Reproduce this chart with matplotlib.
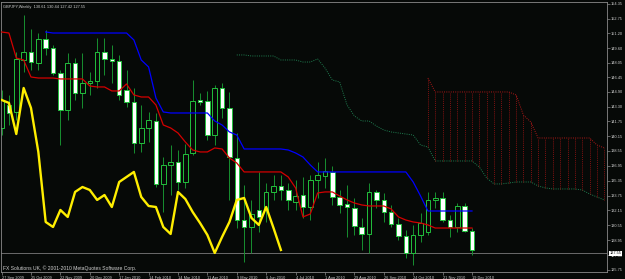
import matplotlib
matplotlib.use('Agg')
import matplotlib.pyplot as plt
import numpy as np

plt.rcParams['font.family'] = ['Liberation Sans', 'DejaVu Sans']

# weekly GBPJPY candles, bar 0 = 27 Sep 2009 ... bar 64 = 19 Dec 2010
opens = [141.02, 143.49, 142.74, 148.33, 149.19, 148.01, 150.59, 149.62, 146.93, 142.95,
         148.01, 144.78, 145.86, 146.07, 149.19, 148.44, 148.22, 145.10, 143.81, 139.40,
         141.02, 141.77, 135.00, 137.04, 137.36, 135.21, 138.33, 144.03, 143.92, 140.26,
         145.32, 143.17, 137.79, 131.12, 130.37, 132.20, 132.20, 134.14, 134.78, 134.35,
         133.06, 133.81, 132.52, 135.43, 135.86, 136.29, 133.60, 132.85, 132.41, 130.37,
         129.62, 134.14, 133.28, 131.98, 130.69, 129.40, 127.58, 129.51, 129.83, 133.28,
         133.49, 131.12, 130.37, 132.63, 129.94]
highs = [145.10, 144.57, 149.19, 153.17, 151.66, 151.23, 151.55, 149.94, 147.25, 149.08,
         148.54, 149.08, 147.04, 150.69, 150.69, 149.94, 148.87, 147.25, 145.32, 143.49,
         142.74, 142.63, 137.90, 139.19, 138.65, 139.30, 146.18, 144.78, 145.00, 145.64,
         145.86, 144.89, 140.48, 134.89, 133.28, 136.29, 135.10, 135.96, 135.96, 135.10,
         135.43, 135.75, 135.96, 137.36, 137.79, 136.93, 134.35, 134.89, 133.49, 131.34,
         135.10, 134.35, 134.03, 132.74, 131.34, 130.05, 130.59, 131.88, 134.14, 134.14,
         134.14, 131.66, 132.95, 132.95, 130.26]
lows = [140.26, 141.34, 141.88, 147.04, 147.25, 147.25, 148.87, 146.72, 139.19, 141.88,
        144.03, 143.17, 144.57, 145.32, 146.72, 145.86, 144.03, 143.28, 138.33, 138.44,
        139.51, 134.67, 131.98, 133.81, 134.35, 134.57, 138.11, 143.49, 139.73, 139.19,
        142.09, 133.28, 130.26, 126.61, 127.58, 129.83, 130.91, 133.28, 133.28, 132.20,
        132.20, 131.34, 131.12, 133.49, 134.57, 132.74, 131.88, 129.30, 129.51, 127.90,
        127.58, 132.41, 130.91, 130.37, 128.97, 127.04, 126.29, 128.76, 129.51, 132.41,
        130.91, 129.30, 129.83, 129.83, 127.36]
closes = [144.03, 142.63, 148.44, 149.19, 148.11, 150.59, 149.62, 146.93, 142.95, 148.01,
          144.78, 145.86, 146.07, 149.19, 148.44, 148.22, 144.57, 143.81, 139.40, 141.02,
          141.88, 135.00, 137.04, 137.36, 135.21, 138.22, 143.92, 143.81, 140.26, 145.32,
          143.17, 137.90, 131.12, 130.37, 131.77, 131.45, 134.14, 134.78, 134.35, 133.28,
          133.70, 132.52, 135.43, 135.96, 136.39, 133.60, 132.74, 132.52, 130.48, 129.62,
          134.14, 133.28, 131.98, 130.69, 129.40, 127.58, 129.51, 130.80, 133.28, 133.49,
          131.12, 130.37, 132.63, 129.94, 127.90]

# Ichimoku lines
tenkan = [151.34, 151.23, 148.54, 148.33, 146.50, 146.39, 146.39, 146.39, 146.29, 146.29,
          146.29, 146.29, 145.53, 145.43, 145.43, 145.00, 145.00, 145.75, 144.57, 144.35,
          144.35, 143.49, 141.34, 141.02, 140.48, 139.51, 138.65, 138.44, 138.44, 138.87,
          138.76, 137.79, 137.25, 136.29, 136.29, 136.29, 136.29, 136.29, 136.29, 135.75,
          134.57, 131.45, 131.77, 134.03, 134.14, 134.14, 133.70, 133.28, 132.95, 132.74,
          132.63, 132.63, 132.63, 132.31, 131.45, 131.12, 130.91, 130.80, 130.59, 130.26,
          130.26, 130.26, 130.26, 130.26, 130.26]
kijun_start = 6
kijun = [151.34, 151.23, 151.23, 151.23, 151.23, 151.23, 151.23, 151.23, 151.23, 151.23,
         151.23, 151.23, 150.48, 148.33, 147.58, 144.24, 142.74, 142.63, 142.63, 142.63,
         142.63, 142.63, 142.63, 141.77, 141.34, 140.59, 140.26, 138.76, 138.76, 138.76,
         138.76, 138.76, 138.76, 138.65, 138.33, 137.90, 137.04, 136.29, 136.29, 136.29,
         136.29, 136.29, 136.29, 136.29, 136.29, 136.29, 136.29, 136.29, 136.29, 136.29,
         135.21, 133.71, 132.09, 132.09, 132.09, 132.09, 132.09, 132.09, 132.09]
chikou = [144.03, 143.71, 140.37, 145.32, 143.17, 138.44, 130.91, 130.37, 132.20, 131.45,
          134.14, 134.67, 134.35, 133.28, 133.81, 132.52, 135.21, 135.75, 136.29, 133.60,
          132.63, 132.52, 130.37, 129.62, 134.14, 133.38, 131.98, 130.80, 129.51, 127.58,
          129.30, 130.91, 133.28, 133.49, 131.34, 130.59, 132.52, 130.26, 127.90]
span_a_start = 32
span_a = [148.87, 148.87, 148.76, 148.76, 148.76, 148.76, 148.33, 148.33, 148.33, 148.11,
          148.11, 148.44, 147.47, 146.18, 145.96, 143.49, 142.31, 141.77, 141.77, 141.23,
          140.80, 140.59, 140.48, 140.37, 140.26, 139.19, 138.97, 137.47, 137.47, 137.47,
          137.47, 137.47, 137.47, 136.82, 135.64, 135.00, 135.00, 135.10, 135.21, 135.21,
          135.21, 134.78, 134.57, 134.46, 134.46, 134.46, 134.46, 134.35, 133.92, 133.60,
          133.28]
span_b_start = 58
span_b = [146.39, 144.89, 144.89, 144.89, 144.89, 144.89, 144.89, 144.89, 144.89, 144.89,
          144.89, 144.89, 144.57, 142.41, 141.66, 139.94, 139.94, 139.94, 139.94, 139.94,
          139.94, 139.94, 139.94, 139.19, 138.87]

date_labels = ['27 Sep 2009', '25 Oct 2009', '22 Nov 2009', '20 Dec 2009', '17 Jan 2010',
               '14 Feb 2010', '14 Mar 2010', '11 Apr 2010', '9 May 2010', '6 Jun 2010',
               '4 Jul 2010', '1 Aug 2010', '29 Aug 2010', '26 Sep 2010', '24 Oct 2010',
               '21 Nov 2010', '19 Dec 2010']
price_ticks = [154.35, 152.75, 151.20, 149.60, 148.05, 146.45, 144.90, 143.30, 141.75,
               140.15, 138.55, 136.95, 135.35, 133.75, 132.15, 130.55, 128.95, 127.35, 125.75]
last_price = 127.55

bg = '#060907'
txt = '#d0d0d0'
grey = '#8a8a8a'

fig = plt.figure(figsize=(6.25, 2.79), dpi=100, facecolor=bg)
ax = fig.add_axes([1 / 625, 7 / 279, 606 / 625, 270 / 279], facecolor=bg)

o = np.array(opens)
h = np.array(highs)
l = np.array(lows)
c = np.array(closes)
x = np.arange(len(o))
up = c >= o

# candles
ax.vlines(x, l, h, color='#179030', lw=0.7, zorder=1)
ax.bar(x[up], (c - o)[up], bottom=o[up], width=0.62, facecolor=bg,
       edgecolor='#22c03c', linewidth=0.7, zorder=2)
ax.bar(x[~up], (o - c)[~up], bottom=c[~up], width=0.62, facecolor='white',
       edgecolor='#22c03c', linewidth=0.7, zorder=2)

# cloud
xa = np.arange(span_a_start, span_a_start + len(span_a))
xb = np.arange(span_b_start, span_b_start + len(span_b))
dots = (0, (1, 1.3))
ax.plot(xa, span_a, color='#1f7f50', lw=0.7, ls=dots, zorder=1)
ax.plot(xb, span_b, color='#b01818', lw=0.7, ls=dots, zorder=1)
a_under = np.array(span_a)[span_b_start - span_a_start:]
ax.vlines(xb, a_under, span_b, color='#a01414', lw=0.6, linestyles=[dots], zorder=1)

# ichimoku lines
ax.plot(np.arange(len(tenkan)), tenkan, color='#d40000', lw=0.9, zorder=3)
ax.plot(np.arange(kijun_start, kijun_start + len(kijun)), kijun, color='#0000ff', lw=0.9, zorder=3)
ax.plot(np.arange(len(chikou)), chikou, color='#ffee00', lw=1.7, zorder=3)

ax.axhline(last_price, color='#7a7a7a', lw=0.6, zorder=0)

ax.set_xlim(-0.08, 82.37)
ax.set_ylim(125.53, 154.565)

for s in ax.spines.values():
    s.set_color(grey)
    s.set_linewidth(0.6)

ax.yaxis.tick_right()
ax.set_yticks(price_ticks)
ax.set_yticklabels(['%.2f' % v for v in price_ticks])
ax.set_xticks(np.arange(0, len(date_labels) * 4, 4))
ax.set_xticklabels(date_labels, ha='left')
ax.tick_params(axis='both', colors=grey, labelcolor=txt, labelsize=2.8,
               length=2, width=0.5, pad=1)

ax.text(1.004, last_price, '%.2f' % last_price, transform=ax.get_yaxis_transform(),
        fontsize=2.8, color='black', va='center', ha='left',
        bbox=dict(boxstyle='square,pad=0.15', fc='white', ec='none'))

ax.text(0.004, 0.988, 'GBPJPY,Weekly  130.61 130.44 127.42 127.55', transform=ax.transAxes,
        fontsize=2.8, color=txt, va='top', ha='left')
ax.text(0.004, 0.015, 'FX Solutions UK, \u00a9 2001-2010 MetaQuotes Software Corp.',
        transform=ax.transAxes, fontsize=3.6, color=txt, va='center', ha='left')

fig.savefig('out.png', dpi=100, facecolor=bg)
